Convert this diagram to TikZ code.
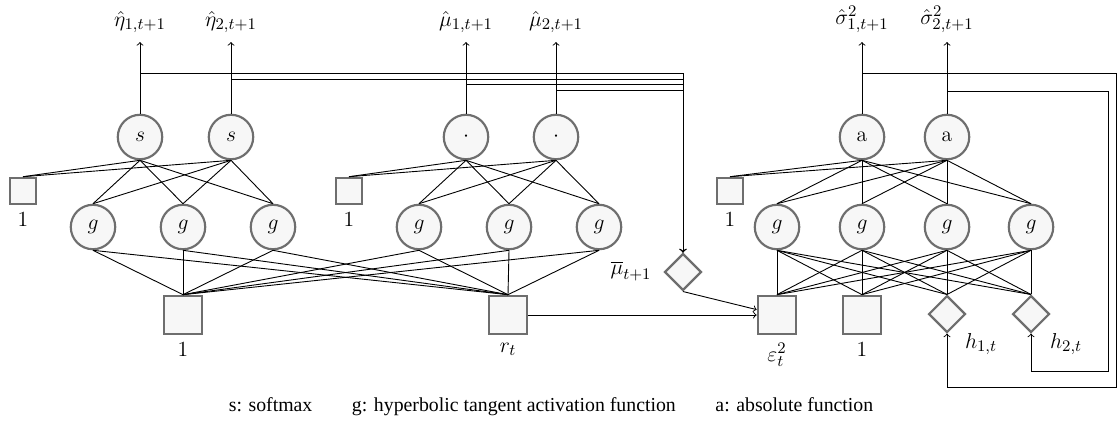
\documentclass[tikz,border=0pt]{standalone}
\usepackage{fontspec}
\newfontfamily\legfont{Liberation Serif}
\usetikzlibrary{shapes.geometric,positioning}
\DeclareMathSizes{12}{12}{9}{7}
\definecolor{bordergray}{HTML}{6E6E6E}
\definecolor{nodefill}{HTML}{F7F7F7}
\begin{document}
\begin{tikzpicture}[x=0.5556pt,y=-0.5556pt,
  font=\fontsize{12}{14}\selectfont,
  neuron/.style={circle, draw=bordergray, fill=nodefill, line width=1.2pt, minimum size=24.7pt, inner sep=0pt},
  biasbox/.style={rectangle, draw=bordergray, fill=nodefill, line width=1.2pt, minimum size=14.7pt, inner sep=0pt},
  inbox/.style={rectangle, draw=bordergray, fill=nodefill, line width=1.2pt, minimum size=21.4pt, inner sep=0pt},
  indiam/.style={diamond, aspect=1, draw=bordergray, fill=nodefill, line width=1.2pt, minimum size=20.5pt, inner sep=0pt},
  conn/.style={line width=0.5pt, black},
  arr/.style={line width=0.5pt, black, ->},
  outlab/.style={inner sep=0pt, anchor=south},
  lab/.style={inner sep=2.5pt}
]
\useasboundingbox (0,0) rectangle (1118,427);

% ---- left block
\node[neuron] (s1) at (140,137) {$s$};
\node[neuron] (s2) at (231,137) {$s$};
\node[biasbox] (b1) at (23,191) {};
\node[neuron] (g1) at (93,227) {$g$};
\node[neuron] (g2) at (183,227) {$g$};
\node[neuron] (g3) at (273,227) {$g$};
% ---- middle block
\node[neuron] (m1) at (466,137) {$\cdot$};
\node[neuron] (m2) at (556,137) {$\cdot$};
\node[biasbox] (b2) at (349,191) {};
\node[neuron] (g4) at (419,227) {$g$};
\node[neuron] (g5) at (509,227) {$g$};
\node[neuron] (g6) at (599,227) {$g$};
\node[inbox] (one1) at (183,315) {};
\node[inbox] (rt) at (508,315) {};
\node[indiam] (mubar) at (683,272) {};
% ---- right block
\node[neuron] (a1) at (862,137) {$\mathrm{a}$};
\node[neuron] (a2) at (947,137) {$\mathrm{a}$};
\node[biasbox] (b3) at (730,191) {};
\node[neuron] (g7) at (777,227) {$g$};
\node[neuron] (g8) at (862,227) {$g$};
\node[neuron] (g9) at (947,227) {$g$};
\node[neuron] (g10) at (1031,227) {$g$};
\node[inbox] (eps) at (777,315) {};
\node[inbox] (one2) at (862,315) {};
\node[indiam] (h1) at (947,314) {};
\node[indiam] (h2) at (1031,314) {};

% ---- labels
\node[outlab] (eta1) at (140,33) {$\hat{\eta}_{1,t+1}$};
\node[outlab] (eta2) at (231,33) {$\hat{\eta}_{2,t+1}$};
\node[outlab] (mu1) at (466,33) {$\hat{\mu}_{1,t+1}$};
\node[outlab] (mu2) at (556,33) {$\hat{\mu}_{2,t+1}$};
\node[outlab] (sg1) at (862,33) {$\hat{\sigma}^2_{1,t+1}$};
\node[outlab] (sg2) at (947,33) {$\hat{\sigma}^2_{2,t+1}$};
\node[lab, below=1.5pt of b1] (b1l) {$1$};
\node[lab, below=1.5pt of b2] (b2l) {$1$};
\node[lab, below=1.5pt of b3] (b3l) {$1$};
\node[lab, below=1.5pt of one1] (one1l) {$1$};
\node[lab, below=1.5pt of rt] (rtl) {$r_t$};
\node[lab, below=1.5pt of eps] (epsl) {$\varepsilon_t^2$};
\node[lab, below=1.5pt of one2] (one2l) {$1$};
\node (mubarl) at (631,271) {$\overline{\mu}_{t+1}$};
\node (h1l) at (981,344) {$h_{1,t}$};
\node (h2l) at (1066,344) {$h_{2,t}$};

% ---- connections
\foreach \s in {s1,s2}{
  \draw[conn] (b1.north) -- (\s.south);
  \foreach \g in {g1,g2,g3} \draw[conn] (\s.south) -- (\g.north);
}
\foreach \s in {m1,m2}{
  \draw[conn] (b2.north) -- (\s.south);
  \foreach \g in {g4,g5,g6} \draw[conn] (\s.south) -- (\g.north);
}
\foreach \s in {a1,a2}{
  \draw[conn] (b3.north) -- (\s.south);
  \foreach \g in {g7,g8,g9,g10} \draw[conn] (\s.south) -- (\g.north);
}
\foreach \g in {g1,g2,g3,g4,g5,g6}
  \foreach \q in {one1,rt} \draw[conn] (\g.south) -- (\q.north);
\foreach \g in {g7,g8,g9,g10}
  \foreach \q in {eps,one2,h1,h2} \draw[conn] (\g.south) -- (\q.north);

% ---- outputs
\draw[arr, shorten >=5pt] (s1) -- (eta1);
\draw[arr, shorten >=5pt] (s2) -- (eta2);
\draw[arr, shorten >=5pt] (m1) -- (mu1);
\draw[arr, shorten >=5pt] (m2) -- (mu2);
\draw[arr, shorten >=5pt] (a1) -- (sg1);
\draw[arr, shorten >=5pt] (a2) -- (sg2);

% ---- feed to mubar
\coordinate (e1) at (140,73);
\coordinate (e2) at (231,79);
\coordinate (u1) at (466,84);
\coordinate (u2) at (556,90);
\draw[arr] (e1) -| (mubar);
\draw[arr] (e2) -| (mubar);
\draw[arr] (u1) -| (mubar);
\draw[arr] (u2) -| (mubar);
\draw[arr] (mubar.south) -- ([yshift=3pt]eps.west);
\draw[arr] (rt) -- (eps);

% ---- recurrent loops
\coordinate (c1) at (862,73);
\coordinate (c1a) at (1116,73);
\coordinate (c1b) at (1116,387);
\coordinate (c2) at (947,91);
\coordinate (c2a) at (1108,91);
\coordinate (c2b) at (1108,371);
\draw[arr] (c1) -- (c1a) -- (c1b) -| (h1);
\draw[arr] (c2) -- (c2a) -- (c2b) -| (h2);

% ---- legend
\node (legend) at (551,407) {\legfont\fontsize{11}{13}\selectfont s: softmax\qquad g: hyperbolic tangent activation function\qquad a: absolute function};
\end{tikzpicture}
\end{document}
